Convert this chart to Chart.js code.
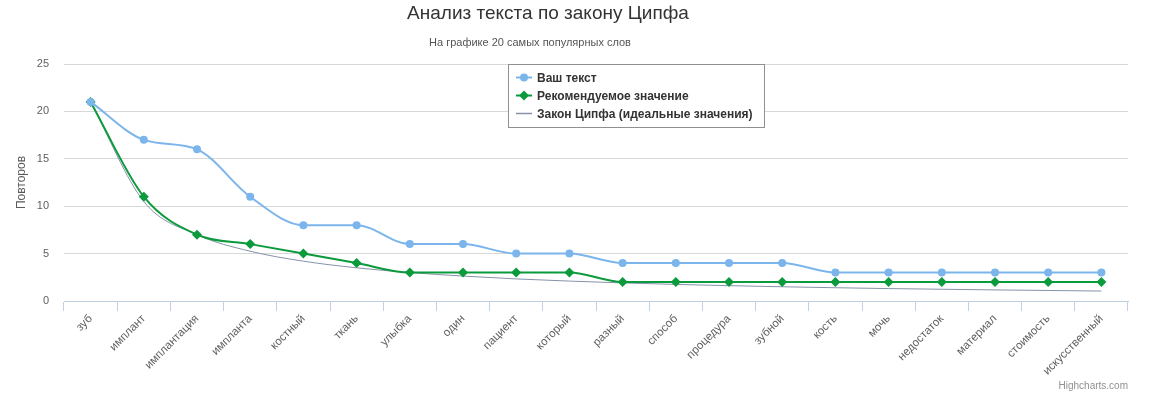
<!DOCTYPE html>
<html>
<head>
<meta charset="utf-8">
<script src="https://cdn.jsdelivr.net/npm/chart.js@4.4.0/dist/chart.umd.min.js"></script>
<style>
  html, body { margin: 0; padding: 0; background: #fff; }
</style>
</head>
<body>
<canvas id="chart" width="1152" height="399"></canvas>
<script>
const words = [
  "зуб", "имплант", "имплантация", "импланта", "костный",
  "ткань", "улыбка", "один", "пациент", "который",
  "разный", "способ", "процедура", "зубной", "кость",
  "мочь", "недостаток", "материал", "стоимость", "искусственный",
];
const yourText = [21, 17, 16, 11, 8, 8, 6, 6, 5, 5, 4, 4, 4, 4, 3, 3, 3, 3, 3, 3];
const recommended = [21, 11, 7, 6, 5, 4, 3, 3, 3, 3, 2, 2, 2, 2, 2, 2, 2, 2, 2, 2];
const zipf = [21, 10.5, 7, 5.25, 4.2, 3.5, 3, 2.63, 2.33, 2.1, 1.91, 1.75, 1.62, 1.5, 1.4, 1.31, 1.24, 1.17, 1.11, 1.05];
const seriesNames = ["Ваш текст", "Рекомендуемое значение", "Закон Ципфа (идеальные значения)"];
const yTicks = [0, 5, 10, 15, 20, 25];

const FONT = "'Liberation Sans', Arial, sans-serif";
const BLUE = "#7cb5ec";
const GREEN = "#0b9a3c";
const GREY = "#8593a8";

//title, subtitle, floating legend and credits
const decorations = {
  id: "decorations",
  afterDraw(chart) {
    const ctx = chart.ctx;
    ctx.save();
    ctx.textAlign = "center";
    ctx.textBaseline = "alphabetic";
    ctx.fillStyle = "#333333";
    ctx.font = "19px " + FONT;
    ctx.fillText("Анализ текста по закону Ципфа", 548, 19);
    ctx.fillStyle = "#555555";
    ctx.font = "11px " + FONT;
    ctx.fillText("На графике 20 самых популярных слов", 530, 46);

    // legend box
    ctx.fillStyle = "#ffffff";
    ctx.fillRect(508, 64, 256, 63);
    ctx.strokeStyle = "#909090";
    ctx.lineWidth = 1;
    ctx.strokeRect(508.5, 64.5, 256, 63);

    const colors = [BLUE, GREEN, GREY];
    ctx.textAlign = "left";
    ctx.font = "bold 12px " + FONT;
    seriesNames.forEach((name, i) => {
      const y = 77.5 + i * 18;
      ctx.strokeStyle = colors[i];
      ctx.lineWidth = i === 2 ? 1.5 : 2;
      ctx.beginPath();
      ctx.moveTo(516, y);
      ctx.lineTo(532, y);
      ctx.stroke();
      ctx.fillStyle = colors[i];
      if (i === 0) {
        ctx.beginPath();
        ctx.arc(524, y, 4, 0, Math.PI * 2);
        ctx.fill();
      } else if (i === 1) {
        ctx.beginPath();
        ctx.moveTo(524, y - 5);
        ctx.lineTo(529, y);
        ctx.lineTo(524, y + 5);
        ctx.lineTo(519, y);
        ctx.closePath();
        ctx.fill();
      }
      ctx.fillStyle = "#333333";
      ctx.fillText(name, 537, y + 4.5);
    });

    // credits
    ctx.textAlign = "right";
    ctx.fillStyle = "#909090";
    ctx.font = "10px " + FONT;
    ctx.fillText("Highcharts.com", 1128, 389);
    ctx.restore();
  },
};

new Chart(document.querySelector("#chart"), {
  type: "line",
  data: {
    labels: words,
    datasets: [
      {
        label: seriesNames[0],
        data: yourText,
        borderColor: BLUE,
        backgroundColor: BLUE,
        borderWidth: 2,
        pointStyle: "circle",
        pointRadius: 4,
        pointBorderWidth: 0,
        cubicInterpolationMode: "monotone",
      },
      {
        label: seriesNames[1],
        data: recommended,
        borderColor: GREEN,
        backgroundColor: GREEN,
        borderWidth: 2,
        pointStyle: "rectRot",
        pointRadius: 5,
        pointBorderWidth: 0,
        cubicInterpolationMode: "monotone",
      },
      {
        label: seriesNames[2],
        data: zipf,
        borderColor: GREY,
        borderWidth: 1,
        pointRadius: 0,
        cubicInterpolationMode: "monotone",
      },
    ],
  },
  options: {
    responsive: false,
    animation: false,
    layout: { padding: { top: 64, right: 24, bottom: 0, left: 0 } },
    plugins: {
      legend: { display: false },
      title: { display: false },
      tooltip: { enabled: false },
    },
    scales: {
      x: {
        offset: true,
        grid: {
          offset: true,
          drawOnChartArea: false,
          drawTicks: true,
          tickLength: 10,
          color: "#c0d0e0",
        },
        border: { color: "#c0d0e0", width: 1 },
        ticks: {
          autoSkip: false,
          minRotation: 45,
          maxRotation: 45,
          padding: 1,
          color: "#606060",
          font: { family: FONT, size: 11.5 },
        },
        afterFit: (scale) => { scale.height = 98; },
      },
      y: {
        min: 0,
        max: 25,
        afterBuildTicks: (scale) => { scale.ticks = yTicks.map((v) => ({ value: v })); },
        grid: { color: "#d8d8d8", drawTicks: false },
        border: { display: false },
        ticks: {
          padding: 15,
          color: "#606060",
          font: { family: FONT, size: 11 },
        },
        title: {
          display: true,
          text: "Повторов",
          color: "#5a5a5a",
          font: { family: FONT, size: 12 },
          padding: { top: 14, bottom: 0 },
        },
        afterFit: (scale) => { scale.width = 64; },
      },
    },
  },
  plugins: [decorations],
});
</script>
</body>
</html>
